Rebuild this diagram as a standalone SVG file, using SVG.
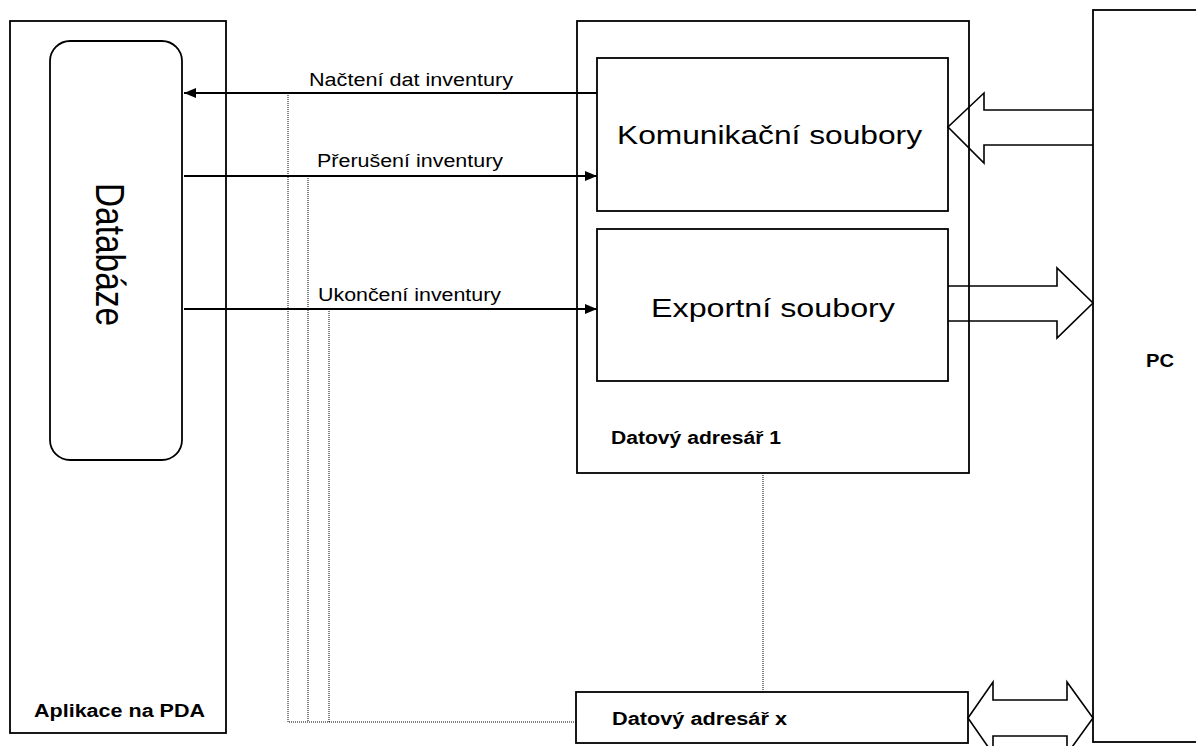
<svg xmlns="http://www.w3.org/2000/svg" width="1196" height="746" viewBox="0 0 1196 746">
  <defs>
    <style>
      .box { fill: #fff; stroke: #000; stroke-width: 1.8; }
      .flow { fill: none; stroke: #000; stroke-width: 2; }
      .dot { fill: none; stroke: #000; stroke-width: 1; stroke-dasharray: 1 1; }
      .blk { fill: none; stroke: #000; stroke-width: 1.6; stroke-linejoin: miter; }
      .lbl { font-family: "Liberation Sans", Arial, sans-serif; fill: #000; }
      .sm { font-size: 18px; }
      .big { font-size: 26.5px; }
      .bold { font-size: 17.5px; font-weight: bold; }
    </style>
    <marker id="tip" viewBox="0 0 12 10" refX="12" refY="5" markerWidth="12" markerHeight="10" markerUnits="userSpaceOnUse" orient="auto">
      <path d="M0,0 L12,5 L0,10 Z" fill="#000"/>
    </marker>
  </defs>

  <rect width="1196" height="746" fill="#fff"/>

  <!-- PDA application -->
  <g id="pda">
    <rect class="box" x="10" y="21" width="216" height="712"/>
    <text class="lbl bold" x="34" y="717" textLength="171" lengthAdjust="spacingAndGlyphs">Aplikace na PDA</text>
  </g>

  <!-- database inside the PDA application -->
  <g id="database">
    <rect class="box" x="50" y="41" width="132" height="419" rx="20" ry="20"/>
    <text class="lbl" font-size="33.5" transform="translate(96,183) scale(1.22,1) rotate(90)" textLength="143" lengthAdjust="spacingAndGlyphs">Databáze</text>
  </g>

  <!-- PC -->
  <g id="pc">
    <rect class="box" x="1093" y="10" width="130" height="732"/>
    <text class="lbl bold" x="1146" y="367" textLength="28" lengthAdjust="spacingAndGlyphs">PC</text>
  </g>

  <!-- data directory 1 -->
  <g id="dir1">
    <rect class="box" x="577" y="21" width="392" height="452"/>
    <text class="lbl bold" x="611" y="444" textLength="170" lengthAdjust="spacingAndGlyphs">Datový adresář 1</text>
  </g>

  <g id="comm">
    <rect class="box" x="597" y="58" width="351" height="153"/>
    <text class="lbl big" x="617" y="144" textLength="305" lengthAdjust="spacingAndGlyphs">Komunikační soubory</text>
  </g>

  <g id="export">
    <rect class="box" x="597" y="229" width="351" height="152"/>
    <text class="lbl big" x="651" y="317" textLength="244" lengthAdjust="spacingAndGlyphs">Exportní soubory</text>
  </g>

  <!-- data directory x -->
  <g id="dirx">
    <rect class="box" x="576" y="692" width="392" height="51"/>
    <text class="lbl bold" x="612" y="725" textLength="175" lengthAdjust="spacingAndGlyphs">Datový adresář x</text>
  </g>

  <!-- connectors -->
  <g id="connectors">
    <line class="flow" x1="597" y1="93" x2="184" y2="93" marker-end="url(#tip)"/>
    <line class="flow" x1="184" y1="176" x2="597" y2="176" marker-end="url(#tip)"/>
    <line class="flow" x1="184" y1="309" x2="597" y2="309" marker-end="url(#tip)"/>

    <text class="lbl sm" x="309" y="86" textLength="204" lengthAdjust="spacingAndGlyphs">Načtení dat inventury</text>
    <text class="lbl sm" x="317" y="167" textLength="186" lengthAdjust="spacingAndGlyphs">Přerušení inventury</text>
    <text class="lbl sm" x="318" y="301" textLength="183" lengthAdjust="spacingAndGlyphs">Ukončení inventury</text>

    <!-- dotted links to the other data directories -->
    <path class="dot" d="M288,93 V722 H576"/>
    <path class="dot" d="M308,176 V722"/>
    <path class="dot" d="M329,309 V722"/>
    <path class="dot" d="M763,473 V692"/>

    <!-- block arrows between PC and the directories -->
    <path class="blk" d="M1093,110 H984 V93 L948,127 L984,163 V145 H1093"/>
    <path class="blk" d="M948,286 H1057 V268 L1093,303 L1057,338 V321 H948"/>
    <path class="blk" d="M968,718 L993,682 V700 H1067 V682 L1093,718 L1067,754 V736 H993 V754 Z"/>
  </g>
</svg>
